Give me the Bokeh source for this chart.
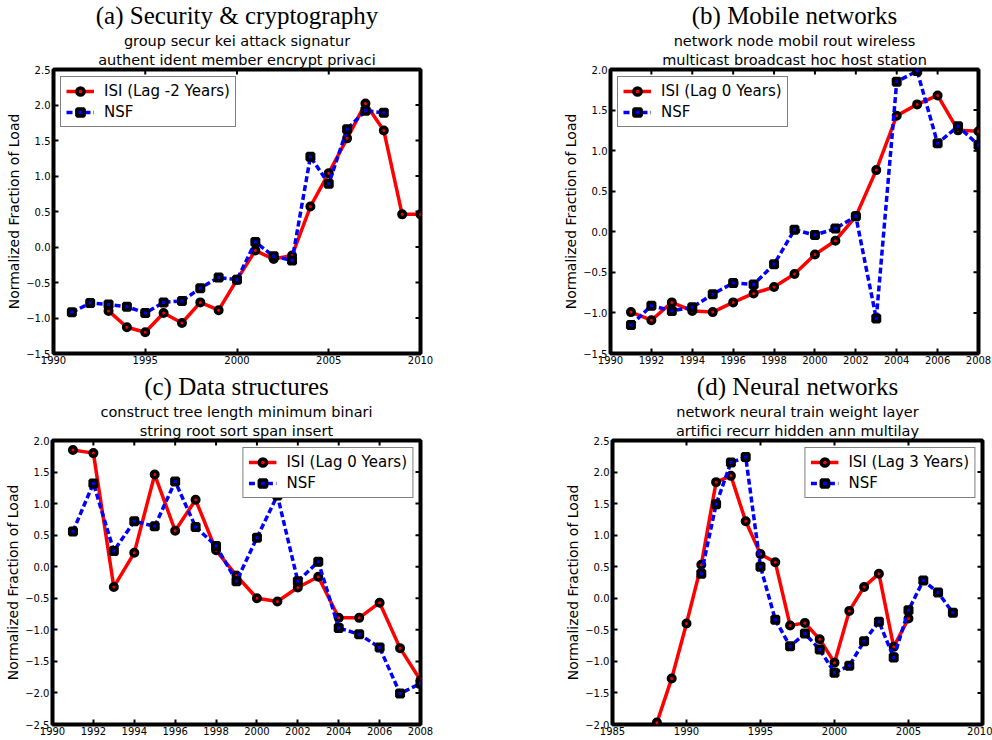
import math
from bokeh.plotting import figure
from bokeh.models import (Range1d, Title, Legend, LegendItem,
                          CustomJSTickFormatter, FixedTicker)
from bokeh.layouts import column, row
from bokeh.embed import file_html
from bokeh.resources import INLINE

# ---------------- data ----------------
a_title = "(a) Security & cryptography"
a_sub = ["group secur kei attack signatur", "authent ident member encrypt privaci"]
a_lag = "ISI (Lag -2 Years)"
a_isi_years = list(range(1993, 2011))
a_isi = [-0.90, -1.13, -1.20, -0.93, -1.07, -0.78, -0.89, -0.46, -0.05, -0.17,
         -0.12, 0.57, 1.04, 1.53, 2.02, 1.64, 0.46, 0.46]
a_nsf_years = list(range(1991, 2009))
a_nsf = [-0.92, -0.79, -0.81, -0.84, -0.93, -0.78, -0.76, -0.58, -0.43, -0.46,
         0.07, -0.13, -0.19, 1.27, 0.89, 1.66, 1.92, 1.89]
a_xlim = [1990, 2010]
a_ylim = [-1.5, 2.5]
a_xticks = [1990, 1995, 2000, 2005, 2010]

b_title = "(b) Mobile networks"
b_sub = ["network node mobil rout wireless", "multicast broadcast hoc host station"]
b_lag = "ISI (Lag 0 Years)"
b_isi_years = list(range(1991, 2009))
b_isi = [-0.99, -1.09, -0.87, -0.975, -0.99, -0.87, -0.76, -0.68, -0.52, -0.28,
         -0.11, 0.19, 0.76, 1.43, 1.57, 1.68, 1.25, 1.24]
b_nsf_years = list(range(1991, 2009))
b_nsf = [-1.15, -0.91, -0.975, -0.93, -0.77, -0.63, -0.65, -0.40, 0.025, -0.04,
         0.04, 0.19, -1.07, 1.85, 1.98, 1.09, 1.30, 1.07]
b_xlim = [1990, 2008]
b_ylim = [-1.5, 2.0]
b_xticks = list(range(1990, 2009, 2))

c_title = "(c) Data structures"
c_sub = ["construct tree length minimum binari", "string root sort span insert"]
c_lag = "ISI (Lag 0 Years)"
c_isi_years = list(range(1991, 2009))
c_isi = [1.85, 1.80, -0.32, 0.22, 1.46, 0.57, 1.06, 0.26, -0.14, -0.50,
         -0.55, -0.33, -0.16, -0.81, -0.81, -0.57, -1.29, -1.80]
c_nsf_years = list(range(1991, 2009))
c_nsf = [0.56, 1.32, 0.25, 0.72, 0.64, 1.35, 0.63, 0.33, -0.23, 0.46,
         1.13, -0.23, 0.08, -0.97, -1.07, -1.28, -2.01, -1.85]
c_xlim = [1990, 2008]
c_ylim = [-2.5, 2.0]
c_xticks = list(range(1990, 2009, 2))

d_title = "(d) Neural networks"
d_sub = ["network neural train weight layer", "artifici recurr hidden ann multilay"]
d_lag = "ISI (Lag 3 Years)"
d_isi_years = list(range(1988, 2006))
d_isi = [-1.97, -1.27, -0.40, 0.53, 1.84, 1.94, 1.22, 0.70, 0.57, -0.43,
         -0.39, -0.65, -1.02, -0.20, 0.18, 0.39, -0.77, -0.32]
d_nsf_years = list(range(1991, 2009))
d_nsf = [0.39, 1.49, 2.15, 2.24, 0.50, -0.34, -0.76, -0.56, -0.81, -1.18,
         -1.07, -0.68, -0.37, -0.94, -0.19, 0.28, 0.09, -0.23]
d_xlim = [1985, 2010]
d_ylim = [-2.0, 2.5]
d_xticks = [1985, 1990, 1995, 2000, 2005, 2010]

y_label = "Normalized Fraction of Load"
nsf_label = "NSF"

SANS = "DejaVu Sans"
SERIF = "Liberation Serif"


def yticks_for(lim):
    n = int(round((lim[1] - lim[0]) / 0.5))
    return [lim[0] + 0.5 * i for i in range(n + 1)]


def style_axis(ax, ticks, standoff, fmt=None):
    ax.ticker = FixedTicker(ticks=ticks)
    ax.major_tick_in = 5
    ax.major_tick_out = 0
    ax.minor_tick_in = 0
    ax.minor_tick_out = 0
    ax.major_tick_line_width = 2
    ax.major_tick_line_color = "black"
    ax.minor_tick_line_color = None
    ax.axis_line_color = None
    ax.major_label_text_font = SANS
    ax.major_label_text_font_size = "10px"
    ax.major_label_text_color = "black"
    ax.major_label_standoff = standoff
    ax.axis_label_standoff = 0
    if fmt is not None:
        ax.formatter = fmt


def make_panel(title, sub, lag, ix, iy, nx, ny, xlim, ylim, xticks,
               width, height, bl, bt, br, bb, loc):
    p = figure(width=width, height=height, title=None,
               x_range=Range1d(xlim[0], xlim[1]), y_range=Range1d(ylim[0], ylim[1]),
               output_backend="svg", toolbar_location=None,
               min_border_left=bl, min_border_top=bt,
               min_border_right=br, min_border_bottom=bb)
    p.grid.visible = False
    p.outline_line_color = "black"
    p.outline_line_width = 4
    p.background_fill_color = "white"
    p.border_fill_color = "white"

    yt = yticks_for(ylim)
    yfmt = CustomJSTickFormatter(code="return tick.toFixed(1).replace('-', '\u2212');")
    style_axis(p.xaxis[0], xticks, 2)
    style_axis(p.yaxis[0], yt, 3, yfmt)
    p.yaxis[0].axis_label = y_label
    p.yaxis[0].axis_label_text_font = SANS
    p.yaxis[0].axis_label_text_font_size = "14px"
    p.yaxis[0].axis_label_text_font_style = "normal"
    p.yaxis[0].axis_label_text_color = "black"
    p.yaxis[0].axis_label_standoff = 1

    # inward tick marks on the top and right edges of the frame
    p.scatter(xticks, [ylim[1]] * len(xticks), marker="dash", size=10,
              angle=math.pi / 2, line_color="black", line_width=2)
    p.scatter([xlim[1]] * len(yt), yt, marker="dash", size=10,
              line_color="black", line_width=2)

    p.add_layout(Title(text=sub[1], align="center", text_font=SANS,
                       text_font_size="14.5px", text_font_style="normal",
                       text_color="black", vertical_align="bottom",
                       standoff=2.5), "above")
    p.add_layout(Title(text=sub[0], align="center", text_font=SANS,
                       text_font_size="14.5px", text_font_style="normal",
                       text_color="black", vertical_align="bottom",
                       standoff=0), "above")
    p.add_layout(Title(text=title, align="center", text_font=SERIF,
                       text_font_size="25px", text_font_style="normal",
                       text_color="black", vertical_align="top",
                       standoff=0), "above")

    l1 = p.line(ix, iy, line_color="red", line_width=3.5)
    s1 = p.scatter(ix, iy, marker="circle", size=6.5, fill_color="red",
                   line_color="black", line_width=3.5)
    l2 = p.line(nx, ny, line_color="blue", line_width=3.5, line_dash="6 3")
    s2 = p.scatter(nx, ny, marker="square", size=6.5, fill_color="blue",
                   line_color="black", line_width=3.5)

    leg = Legend(items=[LegendItem(label=lag, renderers=[l1, s1]),
                        LegendItem(label=nsf_label, renderers=[l2, s2])],
                 location=loc)
    leg.label_text_font = SANS
    leg.label_text_font_size = "15px"
    leg.label_text_color = "black"
    leg.border_line_color = "black"
    leg.border_line_width = 1
    leg.background_fill_alpha = 1.0
    leg.margin = 7
    leg.padding = 5
    leg.spacing = 3
    leg.glyph_width = 28
    leg.glyph_height = 18
    leg.label_height = 18
    leg.label_standoff = 10
    p.add_layout(leg, "center")
    return p


pa = make_panel(a_title, a_sub, a_lag, a_isi_years, a_isi, a_nsf_years, a_nsf,
                a_xlim, a_ylim, a_xticks, 496, 367, 53, 69, 76, 14, "top_left")
pb = make_panel(b_title, b_sub, b_lag, b_isi_years, b_isi, b_nsf_years, b_nsf,
                b_xlim, b_ylim, b_xticks, 496, 367, 114, 69, 14, 14, "top_left")
pc = make_panel(c_title, c_sub, c_lag, c_isi_years, c_isi, c_nsf_years, c_nsf,
                c_xlim, c_ylim, c_xticks, 496, 371, 52, 73, 76, 14, "top_right")
pd = make_panel(d_title, d_sub, d_lag, d_isi_years, d_isi, d_nsf_years, d_nsf,
                d_xlim, d_ylim, d_xticks, 496, 371, 116, 73, 10, 14, "top_right")

layout = column(row(pa, pb), row(pc, pd))
open("out.html", "w").write(file_html(layout, INLINE))
